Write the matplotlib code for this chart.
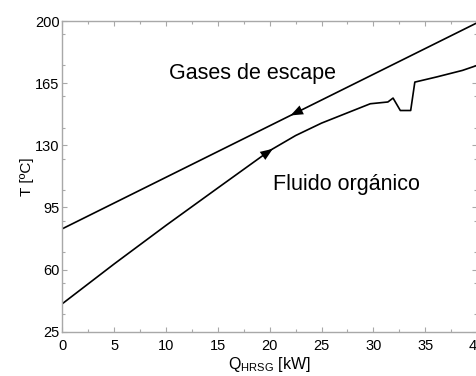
import numpy as np
import matplotlib
matplotlib.use("Agg")
import matplotlib.pyplot as plt
from matplotlib.ticker import MultipleLocator

plt.rcParams['font.family'] = ['Liberation Sans', 'DejaVu Sans']
plt.rcParams['mathtext.fontset'] = 'custom'
plt.rcParams['mathtext.rm'] = 'Liberation Sans'
plt.rcParams['mathtext.it'] = 'Liberation Sans:italic'

# Data
gas_q = [0, 40]
gas_t = [83, 199]

fluid_q = [0, 5, 10, 15, 20, 22.5, 25, 27.5, 29.7, 31.4, 31.9, 32.6, 33.6, 34.0, 36.1, 38.6, 40]
fluid_t = [40.8, 63.2, 84.9, 106, 127, 135.5, 142.5, 148.3, 153.4, 154.4, 156.6, 149.6, 149.6, 165.6, 168.5, 172.2, 175]

xticks = [0, 5, 10, 15, 20, 25, 30, 35, 40]
yticks = [25, 60, 95, 130, 165, 200]

fig = plt.figure(figsize=(4.77, 3.76), dpi=100)
ax = fig.add_axes([0.131, 0.118, 0.869, 0.826])

ax.plot(gas_q, gas_t, color='k', lw=1.2)
ax.plot(fluid_q, fluid_t, color='k', lw=1.2)

# direction arrows
def arrow(qs, ts, q_tip, q_tail):
    tip = (q_tip, np.interp(q_tip, qs, ts))
    tail = (q_tail, np.interp(q_tail, qs, ts))
    ax.annotate('', xy=tip, xytext=tail,
                arrowprops=dict(arrowstyle='-|>,head_length=0.9,head_width=0.35',
                                color='k', lw=0.01, shrinkA=0, shrinkB=0))

arrow(gas_q, gas_t, 22.0, 23.3)
arrow(fluid_q, fluid_t, 20.3, 19.0)

ax.text(10.3, 167.5, 'Gases de escape', fontsize=15.5, ha='left', va='baseline')
ax.text(20.3, 104.7, 'Fluido orgánico', fontsize=15.5, ha='left', va='baseline')

ax.set_xlim(0, 40)
ax.set_ylim(25, 200)
ax.set_xticks(xticks)
ax.set_yticks(yticks)
ax.xaxis.set_minor_locator(MultipleLocator(2.5))
ax.yaxis.set_minor_locator(MultipleLocator(17.5))

sc = '#a8a8a8'
for s in ax.spines.values():
    s.set_color(sc)
    s.set_linewidth(1.0)
ax.tick_params(which='both', direction='in', top=True, right=True, color=sc, labelsize=10.5)
ax.tick_params(which='major', length=3.5, width=0.8)
ax.tick_params(which='minor', length=2.5, width=0.8)
ax.tick_params(axis='x', pad=5)
ax.tick_params(axis='y', pad=2)

ax.set_xlabel(r'Q$_{\mathrm{HRSG}}$ [kW]', fontsize=11.5, labelpad=2)
ax.set_ylabel('T [ºC]', fontsize=11, labelpad=1)

fig.savefig('out.png', dpi=100)
